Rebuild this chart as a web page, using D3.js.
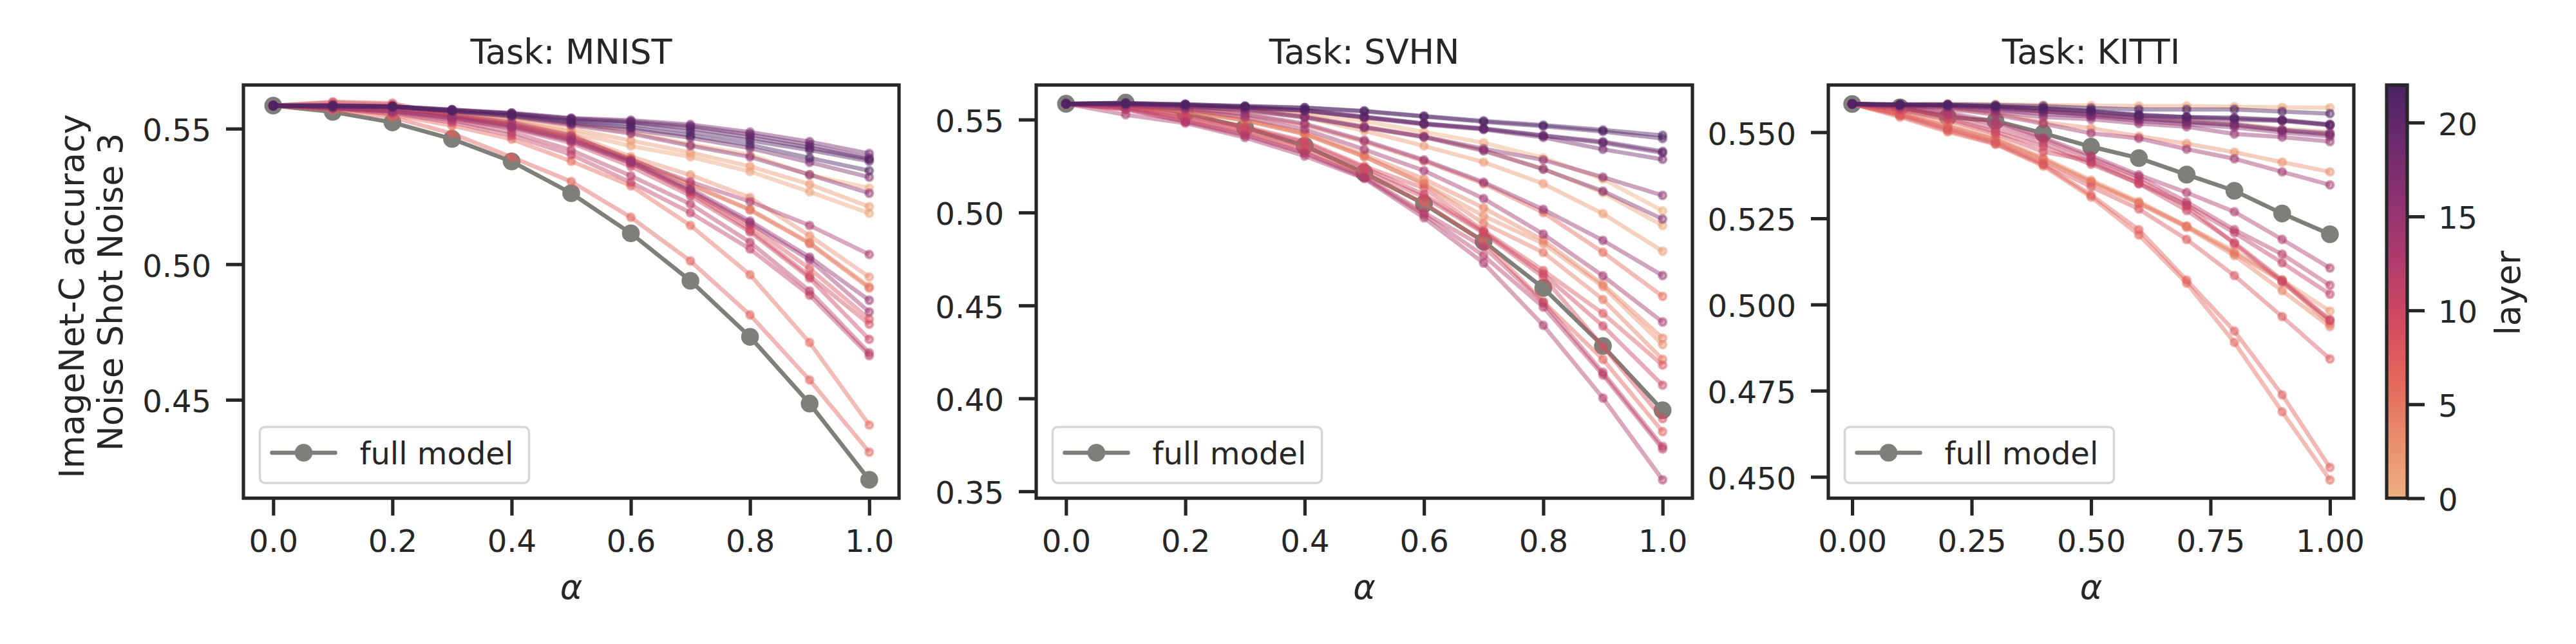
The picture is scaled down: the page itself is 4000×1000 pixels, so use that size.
<!DOCTYPE html>
<html>
<head>
<meta charset="utf-8">
<script src="https://cdnjs.cloudflare.com/ajax/libs/d3/7.8.5/d3.min.js"></script>
<style>
html, body { margin: 0; padding: 0; background: #fff; }
svg { display: block; }
text { font-family: "DejaVu Sans"; fill: #262626; }
</style>
</head>
<body>
<svg width="4000" height="1000"></svg>
<script>
// x values shared by all three panels
var alphas = [0, 0.1, 0.2, 0.3, 0.4, 0.5, 0.6, 0.7, 0.8, 0.9, 1.0];

var mnistFull = [.5585,.5562,.5523,.5462,.5379,.5262,.5114,.4939,.4732,.4486,.4205];
var mnistLayers = [0,2,1,3,4,5,6,7,8,9,10,11,12,13,14,15,16,17,18,19,20,21,22];
// one row per entry of mnistLayers (layer index)
var mnistValues = [
  [.5585,.5582,.5580,.5563,.5547,.5518,.5487,.5442,.5404,.5330,.5281],
  [.5585,.5580,.5577,.5558,.5537,.5499,.5456,.5412,.5361,.5295,.5212],
  [.5585,.5580,.5575,.5554,.5530,.5487,.5436,.5396,.5342,.5267,.5188],
  [.5585,.5582,.5575,.5551,.5525,.5480,.5397,.5329,.5246,.5105,.4953],
  [.5585,.5580,.5573,.5549,.5518,.5471,.5390,.5295,.5202,.5079,.4917],
  [.5585,.5580,.5570,.5547,.5516,.5468,.5387,.5292,.5200,.5076,.4912],
  [.5585,.5575,.5551,.5511,.5461,.5380,.5289,.5143,.4961,.4711,.4407],
  [.5585,.5568,.5542,.5482,.5395,.5305,.5173,.5012,.4813,.4573,.4307],
  [.5585,.5599,.5594,.5547,.5516,.5466,.5380,.5269,.5143,.4984,.4798],
  [.5585,.5596,.5589,.5544,.5513,.5461,.5375,.5262,.5127,.4957,.4779],
  [.5585,.5577,.5568,.5537,.5501,.5447,.5361,.5252,.5119,.4949,.4723],
  [.5585,.5575,.5556,.5523,.5475,.5404,.5302,.5190,.5056,.4886,.4663],
  [.5585,.5575,.5561,.5530,.5487,.5421,.5326,.5222,.5081,.4901,.4673],
  [.5585,.5580,.5575,.5551,.5523,.5475,.5385,.5304,.5231,.5143,.5036],
  [.5585,.5577,.5563,.5539,.5504,.5454,.5373,.5271,.5151,.5016,.4824],
  [.5585,.5577,.5565,.5542,.5509,.5459,.5380,.5278,.5159,.5026,.4867],
  [.5585,.5582,.5580,.5563,.5544,.5513,.5482,.5437,.5396,.5330,.5262],
  [.5585,.5582,.5580,.5565,.5547,.5518,.5497,.5466,.5428,.5376,.5321],
  [.5585,.5587,.5582,.5570,.5558,.5539,.5531,.5515,.5487,.5452,.5408],
  [.5585,.5585,.5582,.5570,.5556,.5537,.5527,.5509,.5478,.5440,.5392],
  [.5585,.5585,.5582,.5568,.5556,.5535,.5523,.5501,.5468,.5430,.5387],
  [.5585,.5585,.5582,.5568,.5554,.5530,.5516,.5489,.5456,.5421,.5380],
  [.5585,.5582,.5580,.5565,.5549,.5523,.5504,.5475,.5440,.5392,.5345]
];

var svhnFull = [.5585,.5591,.5535,.5458,.5359,.5213,.5046,.4844,.4594,.4282,.3936];
var svhnLayers = [22,21,20,19,18,16,0,17,1,2,15,6,14,4,3,5,8,10,9,7,11,12,13];
var svhnValues = [
  [.5585,.5589,.5582,.5573,.5564,.5547,.5519,.5493,.5470,.5444,.5415],
  [.5585,.5589,.5582,.5571,.5563,.5544,.5516,.5488,.5464,.5436,.5398],
  [.5585,.5585,.5578,.5568,.5551,.5516,.5479,.5453,.5415,.5381,.5329],
  [.5585,.5585,.5578,.5566,.5549,.5512,.5478,.5450,.5412,.5375,.5321],
  [.5585,.5585,.5578,.5564,.5547,.5511,.5474,.5447,.5404,.5340,.5286],
  [.5585,.5582,.5571,.5554,.5516,.5460,.5409,.5343,.5283,.5190,.5092],
  [.5585,.5585,.5578,.5564,.5544,.5492,.5433,.5375,.5294,.5180,.5009],
  [.5585,.5582,.5571,.5551,.5512,.5457,.5405,.5332,.5233,.5115,.4965],
  [.5585,.5585,.5575,.5557,.5526,.5464,.5408,.5336,.5235,.5107,.4930],
  [.5585,.5582,.5571,.5547,.5512,.5440,.5358,.5271,.5155,.4994,.4792],
  [.5585,.5578,.5561,.5530,.5478,.5388,.5283,.5163,.5017,.4850,.4661],
  [.5585,.5578,.5561,.5526,.5471,.5381,.5277,.5155,.5000,.4786,.4549],
  [.5585,.5575,.5554,.5512,.5447,.5339,.5225,.5075,.4884,.4659,.4411],
  [.5585,.5575,.5547,.5502,.5429,.5311,.5180,.5025,.4851,.4613,.4324],
  [.5585,.5571,.5544,.5495,.5422,.5301,.5155,.4982,.4833,.4601,.4289],
  [.5585,.5571,.5544,.5495,.5422,.5301,.5153,.4942,.4785,.4532,.4210],
  [.5585,.5568,.5526,.5464,.5384,.5249,.5131,.4903,.4688,.4457,.4179],
  [.5585,.5568,.5519,.5457,.5377,.5242,.5097,.4896,.4670,.4390,.4071],
  [.5585,.5564,.5509,.5443,.5353,.5225,.5083,.4889,.4653,.4279,.3891],
  [.5585,.5561,.5502,.5433,.5339,.5207,.5052,.4844,.4521,.4210,.3821],
  [.5585,.5557,.5492,.5422,.5325,.5194,.5000,.4815,.4515,.4140,.3742],
  [.5585,.5554,.5488,.5415,.5318,.5187,.4989,.4768,.4491,.4126,.3728],
  [.5585,.5526,.5481,.5403,.5304,.5183,.4972,.4728,.4393,.4002,.3562]
];

var kittiFull = [.5582,.5572,.5544,.5533,.5497,.5458,.5425,.5377,.5330,.5264,.5204];
var kittiLayers = [1,22,21,20,19,0,18,17,16,15,3,14,13,12,11,2,10,9,4,8,7,6,5];
var kittiValues = [
  [.5582,.5581,.5582,.5581,.5579,.5577,.5576,.5576,.5574,.5572,.5571],
  [.5582,.5581,.5581,.5579,.5576,.5570,.5566,.5566,.5566,.5560,.5554],
  [.5582,.5580,.5579,.5576,.5570,.5562,.5551,.5544,.5542,.5536,.5523],
  [.5582,.5580,.5579,.5575,.5568,.5561,.5549,.5544,.5540,.5534,.5521],
  [.5582,.5579,.5579,.5574,.5566,.5559,.5548,.5542,.5536,.5533,.5520],
  [.5582,.5579,.5577,.5572,.5562,.5553,.5542,.5533,.5525,.5510,.5501],
  [.5582,.5579,.5577,.5570,.5561,.5551,.5540,.5531,.5523,.5507,.5497],
  [.5582,.5579,.5577,.5569,.5559,.5549,.5538,.5529,.5520,.5505,.5493],
  [.5582,.5577,.5574,.5564,.5553,.5546,.5533,.5523,.5514,.5499,.5488],
  [.5582,.5577,.5572,.5559,.5544,.5538,.5525,.5516,.5495,.5486,.5473],
  [.5582,.5577,.5570,.5555,.5529,.5512,.5488,.5467,.5442,.5413,.5385],
  [.5582,.5576,.5568,.5551,.5525,.5497,.5482,.5451,.5423,.5385,.5347],
  [.5582,.5574,.5557,.5531,.5484,.5432,.5376,.5325,.5269,.5189,.5106],
  [.5582,.5572,.5553,.5523,.5480,.5426,.5370,.5298,.5217,.5146,.5056],
  [.5582,.5570,.5548,.5510,.5469,.5413,.5351,.5289,.5208,.5121,.5030],
  [.5582,.5559,.5525,.5484,.5426,.5361,.5299,.5228,.5155,.5071,.4981],
  [.5582,.5566,.5540,.5501,.5458,.5407,.5351,.5273,.5180,.5071,.4956],
  [.5582,.5564,.5536,.5495,.5443,.5417,.5361,.5286,.5176,.5065,.4953],
  [.5582,.5553,.5514,.5477,.5419,.5353,.5293,.5224,.5142,.5040,.4936],
  [.5582,.5551,.5510,.5471,.5409,.5342,.5277,.5189,.5084,.4965,.4842],
  [.5582,.5548,.5505,.5467,.5406,.5318,.5217,.5071,.4923,.4738,.4527],
  [.5582,.5544,.5501,.5465,.5402,.5312,.5202,.5062,.4890,.4689,.4491],
  [.5582,.5555,.5518,.5480,.5422,.5357,.5295,.5227,.5149,.5067,.4944]
];

var flareStops = ["#edb081", "#e98d6b", "#e3685c", "#d14a61", "#b13c6c", "#8f3371", "#6c2b6d", "#4b2362"];
var layerTicks = [0, 5, 10, 15, 20];

var panels = [
  {title: "Task: MNIST", full: mnistFull, layers: mnistLayers, values: mnistValues,
   left: 378, right: 1396, ylim: [0.4137, 0.5661], xticks: [0, .2, .4, .6, .8, 1], xfmt: ".1f",
   yticks: [.45, .5, .55], yfmt: ".2f"},
  {title: "Task: SVHN", full: svhnFull, layers: svhnLayers, values: svhnValues,
   left: 1609, right: 2628, ylim: [0.3463, 0.5686], xticks: [0, .2, .4, .6, .8, 1], xfmt: ".1f",
   yticks: [.35, .4, .45, .5, .55], yfmt: ".2f"},
  {title: "Task: KITTI", full: kittiFull, layers: kittiLayers, values: kittiValues,
   left: 2839, right: 3655, ylim: [0.4438, 0.5637], xticks: [0, .25, .5, .75, 1], xfmt: ".2f",
   yticks: [.45, .475, .5, .525, .55], yfmt: ".3f"}
];

var top_ = 132, bottom = 773.6;
var ink = "#262626", grey = "#7f7f79";
var layerAlpha = 0.45;
var svg = d3.select("svg");

var color = d3.scaleLinear()
    .domain(flareStops.map(function (d, i) { return 22 * i / 7; }))
    .range(flareStops)
    .interpolate(d3.interpolateRgb);

function styleAxis(g) {
    g.selectAll("path").attr("stroke", "none");
    g.selectAll("line").attr("stroke", ink).attr("stroke-width", 5.2);
    g.selectAll("text").attr("fill", ink).style("font-size", "48px").style("font-family", "DejaVu Sans");
}

panels.forEach(function (p) {
    var x = d3.scaleLinear().domain([-0.05, 1.05]).range([p.left, p.right]);
    var y = d3.scaleLinear().domain(p.ylim).range([bottom, top_]);
    var line = d3.line()
        .x(function (d, i) { return x(alphas[i]); })
        .y(function (d) { return y(d); });

    var g = svg.append("g");

    g.append("g")
        .attr("transform", "translate(0," + bottom + ")")
        .call(d3.axisBottom(x).tickValues(p.xticks).tickFormat(d3.format(p.xfmt)).tickSize(27).tickPadding(22.5))
        .call(styleAxis);
    g.append("g")
        .attr("transform", "translate(" + p.left + ",0)")
        .call(d3.axisLeft(y).tickValues(p.yticks).tickFormat(d3.format(p.yfmt)).tickSize(27).tickPadding(23))
        .call(styleAxis)
        .selectAll("text").attr("dy", ".39em");

    // full model underneath, layers on top
    g.append("path").datum(p.full)
        .attr("d", line).attr("fill", "none").attr("stroke", grey).attr("stroke-width", 6.5);
    g.append("g").selectAll("circle").data(p.full).enter().append("circle")
        .attr("cx", function (d, i) { return x(alphas[i]); })
        .attr("cy", function (d) { return y(d); })
        .attr("r", 13.8).attr("fill", grey);

    var rows = p.values.map(function (v, i) { return {layer: p.layers[i], v: v}; })
        .sort(function (a, b) { return a.layer - b.layer; });

    var series = g.append("g").selectAll("g").data(rows).enter().append("g");
    series.append("path")
        .attr("d", function (d) { return line(d.v); })
        .attr("fill", "none")
        .attr("stroke", function (d) { return color(d.layer); })
        .attr("stroke-opacity", layerAlpha)
        .attr("stroke-width", 6.5);
    series.selectAll("circle")
        .data(function (d) { return d.v.map(function (v, i) { return {v: v, i: i, layer: d.layer}; }); })
        .enter().append("circle")
        .attr("cx", function (d) { return x(alphas[d.i]); })
        .attr("cy", function (d) { return y(d.v); })
        .attr("r", 5.65)
        .attr("fill", function (d) { return color(d.layer); })
        .attr("fill-opacity", layerAlpha)
        .attr("stroke", function (d) { return color(d.layer); })
        .attr("stroke-opacity", layerAlpha)
        .attr("stroke-width", 4);

    g.append("rect")
        .attr("x", p.left).attr("y", top_)
        .attr("width", p.right - p.left).attr("height", bottom - top_)
        .attr("fill", "none").attr("stroke", ink).attr("stroke-width", 5.2);

    var cx = (p.left + p.right) / 2;
    g.append("text").attr("x", cx).attr("y", 99).attr("text-anchor", "middle")
        .style("font-size", "52.5px").text(p.title);
    g.append("text").attr("x", cx).attr("y", 930).attr("text-anchor", "middle")
        .style("font-size", "52.5px").style("font-style", "italic").text("α");

    // legend
    var lg = g.append("g").attr("transform", "translate(" + (p.left + 25.5) + ",663)");
    lg.append("rect").attr("width", 418).attr("height", 87).attr("rx", 8)
        .attr("fill", "#fff").attr("fill-opacity", 0.8).attr("stroke", "#d6d6d6").attr("stroke-width", 3.5);
    lg.append("line").attr("x1", 19).attr("x2", 117).attr("y1", 40).attr("y2", 40)
        .attr("stroke", grey).attr("stroke-width", 6.5).attr("stroke-linecap", "round");
    lg.append("circle").attr("cx", 68).attr("cy", 40).attr("r", 13.8).attr("fill", grey);
    lg.append("text").attr("x", 155).attr("y", 58).style("font-size", "48px").text("full model");
});

// y label of the first panel, two rows
svg.append("text").attr("transform", "translate(129.5,460) rotate(-90)")
    .attr("text-anchor", "middle").style("font-size", "52.5px").text("ImageNet-C accuracy");
svg.append("text").attr("transform", "translate(190,453.5) rotate(-90)")
    .attr("text-anchor", "middle").style("font-size", "52.5px").text("Noise Shot Noise 3");

// colorbar
var cbar = d3.scaleLinear().domain([0, 22]).range([bottom, top_]);
var grad = svg.append("defs").append("linearGradient").attr("id", "flare")
    .attr("x1", 0).attr("x2", 0).attr("y1", 1).attr("y2", 0);
grad.selectAll("stop").data(d3.range(0, 23)).enter().append("stop")
    .attr("offset", function (d) { return d / 22; })
    .attr("stop-color", function (d) { return color(d); });
svg.append("rect").attr("x", 3706).attr("y", top_).attr("width", 32).attr("height", bottom - top_)
    .attr("fill", "url(#flare)").attr("stroke", ink).attr("stroke-width", 5.2);
svg.append("g").attr("transform", "translate(3738,0)")
    .call(d3.axisRight(cbar).tickValues(layerTicks).tickSize(27).tickPadding(21))
    .call(styleAxis)
    .selectAll("text").attr("dy", ".39em");
svg.append("text").attr("transform", "translate(3913,455) rotate(-90)")
    .attr("text-anchor", "middle").style("font-size", "52.5px").text("layer");
</script>
</body>
</html>
